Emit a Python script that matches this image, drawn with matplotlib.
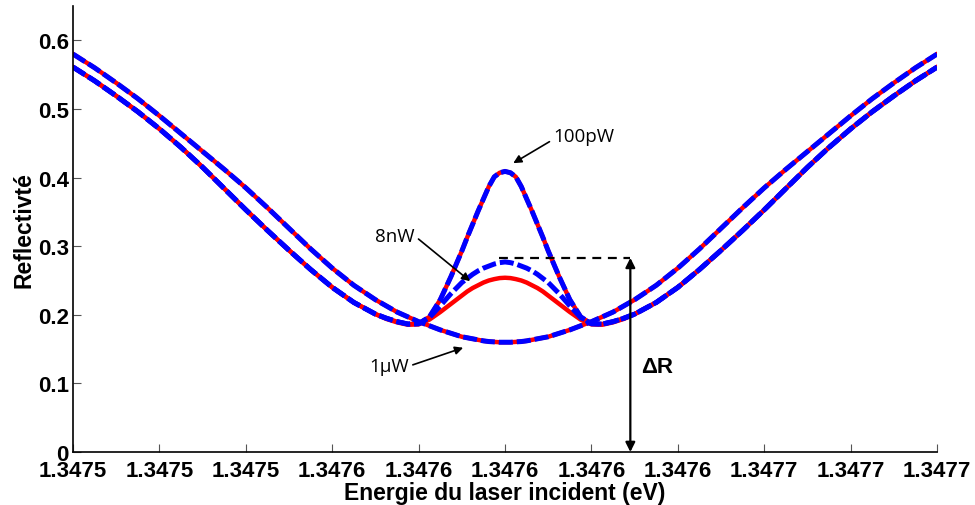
import matplotlib
matplotlib.use("Agg")
import matplotlib.pyplot as plt
from matplotlib.ticker import FuncFormatter

# Décalage par rapport au centre (µeV) et réflectivités
E0 = 1.3476
decalage = [-100, -95, -90, -85, -80, -75, -70, -65, -60, -55, -50, -45, -40, -35,
            -30, -27.5, -25, -22.5, -20, -17.5, -15, -12.5, -10, -8.75, -7.5, -6.25,
            -5, -3.75, -2.5, -1.25, 0, 1.25, 2.5, 3.75, 5, 6.25, 7.5, 8.75, 10,
            12.5, 15, 17.5, 20, 22.5, 25, 27.5, 30,
            35, 40, 45, 50, 55, 60, 65, 70, 75, 80, 85, 90, 95, 100]

R_1uW = [0.580, 0.560, 0.538, 0.515, 0.490, 0.464, 0.438, 0.412, 0.385, 0.356,
         0.326, 0.296, 0.268, 0.243, 0.222, 0.213, 0.204, 0.197, 0.190, 0.184,
         0.178, 0.173, 0.168, 0.1665, 0.165, 0.1635, 0.162, 0.161, 0.1605, 0.160,
         0.160,
         0.160, 0.1605, 0.161, 0.162, 0.1635, 0.165, 0.1665, 0.168, 0.173, 0.178,
         0.184, 0.190, 0.197, 0.204, 0.213, 0.222, 0.243, 0.268, 0.296, 0.326,
         0.356, 0.385, 0.412, 0.438, 0.464, 0.490, 0.515, 0.538, 0.560, 0.580]

R_100pW = [0.561, 0.541, 0.519, 0.496, 0.471, 0.444, 0.415, 0.384, 0.353, 0.323,
           0.294, 0.266, 0.240, 0.218, 0.201, 0.195, 0.190, 0.1865, 0.187, 0.197,
           0.222, 0.256, 0.293, 0.313, 0.332, 0.351, 0.369, 0.387, 0.401, 0.407,
           0.409,
           0.407, 0.401, 0.387, 0.369, 0.351, 0.332, 0.313, 0.293, 0.256, 0.222,
           0.197, 0.187, 0.1865, 0.190, 0.195, 0.201, 0.218, 0.240, 0.266, 0.294,
           0.323, 0.353, 0.384, 0.415, 0.444, 0.471, 0.496, 0.519, 0.541, 0.561]

R_8nW_bleu = [0.561, 0.541, 0.519, 0.496, 0.471, 0.444, 0.415, 0.384, 0.353, 0.323,
              0.294, 0.266, 0.240, 0.218, 0.201, 0.195, 0.190, 0.1865, 0.187, 0.196,
              0.213, 0.231, 0.247, 0.253, 0.259, 0.264, 0.268, 0.271, 0.274, 0.276,
              0.277,
              0.276, 0.274, 0.271, 0.268, 0.264, 0.259, 0.253, 0.247, 0.231, 0.213,
              0.196, 0.187, 0.1865, 0.190, 0.195, 0.201, 0.218, 0.240, 0.266, 0.294,
              0.323, 0.353, 0.384, 0.415, 0.444, 0.471, 0.496, 0.519, 0.541, 0.561]

R_8nW_rouge = [0.561, 0.541, 0.519, 0.496, 0.471, 0.444, 0.415, 0.384, 0.353, 0.323,
               0.294, 0.266, 0.240, 0.218, 0.201, 0.194, 0.189, 0.1855, 0.186, 0.193,
               0.204, 0.216, 0.228, 0.234, 0.239, 0.243, 0.247, 0.250, 0.252, 0.2535,
               0.254,
               0.2535, 0.252, 0.250, 0.247, 0.243, 0.239, 0.234, 0.228, 0.216, 0.204,
               0.193, 0.186, 0.1855, 0.189, 0.194, 0.201, 0.218, 0.240, 0.266, 0.294,
               0.323, 0.353, 0.384, 0.415, 0.444, 0.471, 0.496, 0.519, 0.541, 0.561]

x_ticks = [1.34750, 1.34752, 1.34754, 1.34756, 1.34758, 1.34760,
           1.34762, 1.34764, 1.34766, 1.34768, 1.34770]
y_ticks = [0, 0.1, 0.2, 0.3, 0.4, 0.5, 0.6]

energie = [E0 + d * 1e-6 for d in decalage]

fig = plt.figure(figsize=(9.75, 5.06), dpi=100)
ax = fig.add_axes([0.0749, 0.1047, 0.8862, 0.8814])

rouge = "#ff0000"
bleu = "#0000ff"
tirets = (0, (2.8, 0.8))

# modèle 1 : traits rouges pleins, modèle 2 : tirets bleus par-dessus
for R in (R_1uW, R_100pW, R_8nW_rouge):
    ax.plot(energie, R, color=rouge, lw=3.2, solid_joinstyle="round")
for R in (R_1uW, R_100pW, R_8nW_bleu):
    ax.plot(energie, R, color=bleu, lw=3.6, linestyle=tirets,
            dash_joinstyle="round")

ax.set_xlim(1.34750, 1.34770)
ax.set_ylim(0, 0.65)
ax.set_xticks(x_ticks)
ax.set_yticks(y_ticks)
ax.xaxis.set_major_formatter(FuncFormatter(lambda v, p: f"{v:.4f}"))
ax.yaxis.set_major_formatter(FuncFormatter(lambda v, p: "0" if v == 0 else f"{v:.1f}"))
ax.tick_params(direction="in", length=6, width=0.8, color="#555555")
ax.tick_params(axis="x", pad=6)
ax.tick_params(axis="y", pad=3)
for lab in ax.get_xticklabels() + ax.get_yticklabels():
    lab.set_fontfamily("Liberation Sans")
    lab.set_fontweight("bold")
    lab.set_fontsize(16)
ax.spines["top"].set_visible(False)
ax.spines["right"].set_visible(False)
for s in ("left", "bottom"):
    ax.spines[s].set_linewidth(1.2)

ax.set_xlabel("Energie du laser incident (eV)", fontfamily="Liberation Sans",
              fontweight="bold", fontsize=16.5, labelpad=0)
ax.set_ylabel("Reflectivté", fontfamily="Liberation Sans",
              fontweight="bold", fontsize=16.5, labelpad=2)

# annotations des puissances
police = dict(fontfamily="Open Sans", fontsize=13.5)


def fleche(rel):
    return dict(arrowstyle="-|>", color="black", lw=1.2, mutation_scale=12,
                relpos=rel, shrinkA=1, shrinkB=0)


ax.annotate("100pW", xy=(1.3476019, 0.421), xytext=(1.3476112, 0.461),
            ha="left", va="center", arrowprops=fleche((0, 0.3)), **police)
ax.annotate("8nW", xy=(1.3475919, 0.249), xytext=(1.3475699, 0.315),
            ha="left", va="center", arrowprops=fleche((1, 0.5)), **police)
ax.annotate("1µW", xy=(1.3475903, 0.152), xytext=(1.3475685, 0.125),
            ha="left", va="center", arrowprops=fleche((1, 0.5)), **police)

# ΔR : ligne pointillée et double flèche
x_dr = 1.347629
r_max = 0.283
ax.plot([1.3475985, x_dr], [r_max, r_max], color="black", lw=1.6,
        linestyle=(0, (4, 3)))
ax.annotate("", xy=(x_dr, r_max), xytext=(x_dr, 0),
            arrowprops=dict(arrowstyle="<|-|>", color="black", lw=1.6,
                            mutation_scale=14, shrinkA=0, shrinkB=0))
ax.text(1.3476315, 0.125, "ΔR", fontfamily="Liberation Sans", fontweight="bold",
        fontsize=16, ha="left", va="center")

fig.savefig("out.png", dpi=100)
